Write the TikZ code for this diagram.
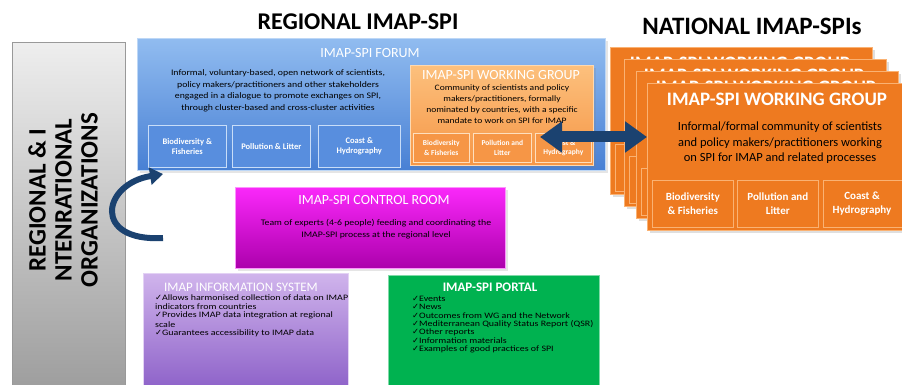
\documentclass[tikz,border=0pt]{standalone}
\usepackage{fontspec}
\setmainfont{Carlito}
\newfontfamily\widefont[FakeStretch=1.15]{Carlito}
\newfontfamily\listfont[FakeStretch=1.2]{Carlito}
\newfontfamily\symfont{DejaVu Sans}
\usetikzlibrary{arrows.meta,shadows}

\definecolor{greytop}{RGB}{238,238,238}
\definecolor{greybot}{RGB}{158,158,158}
\definecolor{forumtop}{RGB}{145,188,240}
\definecolor{forumbot}{RGB}{72,128,212}
\definecolor{forumsub}{RGB}{88,142,222}
\definecolor{wgtop}{RGB}{252,192,125}
\definecolor{wgbot}{RGB}{246,150,70}
\definecolor{natfill}{RGB}{238,122,32}
\definecolor{natedge}{RGB}{250,178,115}
\definecolor{arrowblue}{RGB}{27,66,112}
\definecolor{ctrltop}{RGB}{250,40,250}
\definecolor{ctrlbot}{RGB}{172,0,172}
\definecolor{infotop}{RGB}{208,180,236}
\definecolor{infobot}{RGB}{140,96,200}
\definecolor{portalfill}{RGB}{0,178,80}

\newcommand{\chk}{{\symfont ✓}}

\tikzset{
  panel/.style={anchor=north west, inner sep=0pt, line width=0.6pt},
  subpanel/.style={anchor=north west, inner sep=0pt, align=center, text=white,
    line width=0.6pt, font=\bfseries\fontsize{8.5}{10.5}\selectfont},
  natsub/.style={subpanel, fill=natfill, draw=natedge, minimum height=47pt},
  heading/.style={text=white, inner sep=0pt, font=\fontsize{14}{16}\selectfont},
  blurb/.style={align=center, inner sep=0pt, font=\widefont\fontsize{8.5}{11.5}\selectfont},
  checklist/.style={anchor=north west, align=left, inner sep=0pt,
    font=\listfont\fontsize{8.3}{8.3}\selectfont},
  bigarrow/.style={arrowblue, line width=11pt,
    {Triangle[width=30pt,length=22pt]}-{Triangle[width=30pt,length=22pt]}},
  bendarrow/.style={arrowblue, line width=6pt, -{Triangle[width=17pt,length=13pt]}},
}

% one national working group card: name, x, y of its top left corner
\newcommand{\natcard}[3]{%
  \node[panel, fill=natfill, draw=natedge, minimum width=262pt, minimum height=147pt,
    drop shadow={opacity=0.25}] (#1) at (#2,#3) {};
  \node[heading, font=\bfseries\fontsize{19}{22}\selectfont] (#1title) at (#2+130,#3+16)
    {IMAP-SPI WORKING GROUP};
  \node[natsub, minimum width=81pt] (#1bio) at (#2+5,#3+97) {};
  \node[natsub, minimum width=81pt] (#1pol) at (#2+90,#3+97) {};
  \node[natsub, minimum width=81pt] (#1coast) at (#2+176,#3+97) {};
}

\begin{document}
\begin{tikzpicture}[x=1pt,y=-1pt]
  \useasboundingbox[fill=white] (0,0) rectangle (902,385);

  % headings
  \node[inner sep=0pt, font=\bfseries\fontsize{24}{26}\selectfont] (regional) at (358,22) {REGIONAL IMAP-SPI};
  \node[inner sep=0pt, font=\bfseries\fontsize{25}{27}\selectfont] (national) at (752,26) {NATIONAL IMAP-SPIs};

  % organizations column
  \node[panel, top color=greytop, bottom color=greybot, draw=gray!80,
    minimum width=113pt, minimum height=345pt] (orgs) at (12,42) {};
  \node[rotate=90, align=center, inner sep=0pt, font=\bfseries\fontsize{25}{26}\selectfont]
    (orgstext) at (63,200) {REGIONAL \& I\\NTENRATIONAL\\ORGANIZATIONS};

  % forum
  \node[panel, top color=forumtop, bottom color=forumbot, draw=forumtop!60!white,
    minimum width=468pt, minimum height=132pt, drop shadow={opacity=0.2}] (forum) at (137,38) {};
  \node[heading] (forumtitle) at (370,53) {IMAP-SPI FORUM};
  \node[blurb] (forumtext) at (278,91)
    {Informal, voluntary-based, open network of scientists,\\policy makers/practitioners and other stakeholders\\engaged in a dialogue to promote exchanges on SPI,\\through cluster-based and cross-cluster activities};
  \node[subpanel, fill=forumsub, draw=forumtop!50!white, minimum width=78pt, minimum height=42pt]
    (forumbio) at (148,125) {Biodiversity \&\\Fisheries};
  \node[subpanel, fill=forumsub, draw=forumtop!50!white, minimum width=78pt, minimum height=42pt]
    (forumpol) at (232,125) {Pollution \& Litter};
  \node[subpanel, fill=forumsub, draw=forumtop!50!white, minimum width=82pt, minimum height=42pt]
    (forumcoast) at (318,125) {Coast \&\\Hydrography};

  % regional working group
  \node[panel, top color=wgtop, bottom color=wgbot, draw=wgtop!60!white,
    minimum width=183pt, minimum height=100pt, drop shadow={opacity=0.2}] (wg) at (410,65) {};
  \node[heading] (wgtitle) at (501,75) {IMAP-SPI WORKING GROUP};
  \node[blurb, font=\widefont\fontsize{8.3}{11}\selectfont] (wgtext) at (502,104.5)
    {Community of scientists and policy\\makers/practitioners, formally\\nominated by countries, with a specific\\mandate to work on SPI for IMAP};
  \node[subpanel, fill=wgbot, draw=wgtop!50!white, minimum width=56pt, minimum height=29pt,
    font=\bfseries\fontsize{7.5}{9.5}\selectfont] (wgbio) at (413,133) {Biodiversity\\\& Fisheries};
  \node[subpanel, fill=wgbot, draw=wgtop!50!white, minimum width=58pt, minimum height=29pt,
    font=\bfseries\fontsize{7.5}{9.5}\selectfont] (wgpol) at (473,133) {Pollution and\\Litter};
  \node[subpanel, fill=wgbot, draw=wgtop!50!white, minimum width=56pt, minimum height=29pt,
    font=\bfseries\fontsize{7.5}{9.5}\selectfont] (wgcoast) at (535,133) {Coast \&\\Hydrography};

  % national working groups, stacked, front one carries the text
  \foreach \i/\cx/\cy in {1/610/47,2/624/59,3/636/71,4/647/83}
    \natcard{card\i}{\cx}{\cy};
  \node[blurb, font=\fontsize{12.5}{15.5}\selectfont] (card4text) at (780,143)
    {Informal/formal community of scientists\\and policy makers/practitioners working\\on SPI for IMAP and related processes};
  \node[text=white, align=center, font=\bfseries\fontsize{11}{14}\selectfont] (card4biotext) at (card4bio) {Biodiversity\\\& Fisheries};
  \node[text=white, align=center, font=\bfseries\fontsize{11}{14}\selectfont] (card4poltext) at (card4pol) {Pollution and\\Litter};
  \node[text=white, align=center, font=\bfseries\fontsize{11}{14}\selectfont] (card4coasttext) at (862,203.5) {Coast \&\\Hydrography};

  % control room
  \node[panel, top color=ctrltop, bottom color=ctrlbot, draw=ctrltop!50!white,
    minimum width=270pt, minimum height=81pt, drop shadow={opacity=0.2}] (ctrl) at (235,187) {};
  \node[heading] (ctrltitle) at (374,200) {IMAP-SPI CONTROL ROOM};
  \node[blurb, font=\widefont\fontsize{8.5}{12.5}\selectfont] (ctrltext) at (376,229)
    {Team of experts (4-6 people) feeding and coordinating the\\IMAP-SPI process at the regional level};

  % information system
  \node[panel, top color=infotop, bottom color=infobot, draw=infotop!60!white,
    minimum width=205pt, minimum height=118pt] (info) at (143,273) {};
  \node[heading, font=\fontsize{13}{15}\selectfont] (infotitle) at (241,287) {IMAP  INFORMATION SYSTEM};
  \node[checklist] (infolist) at (155,295)
    {\chk Allows harmonised collection of data on IMAP\\indicators from countries\\\chk Provides IMAP data integration at regional\\[1.5pt]scale\\\chk Guarantees accessibility to IMAP data};

  % portal
  \node[panel, fill=portalfill, draw=portalfill!50!white,
    minimum width=211pt, minimum height=116pt] (portal) at (388,275) {};
  \node[heading, font=\bfseries\fontsize{13}{15}\selectfont] (portaltitle) at (490,287) {IMAP-SPI PORTAL};
  \node[checklist] (portallist) at (412,296)
    {\chk Events\\\chk News\\\chk Outcomes from WG and the Network\\\chk Mediterranean Quality Status Report (QSR)\\\chk Other reports\\\chk Information materials\\\chk Examples of good practices of SPI};

  % connectors
  \coordinate (wgport) at (540,137);
  \coordinate (natport) at (647,137);
  \draw[bigarrow] (wgport) -- (natport);

  \coordinate (orgtail) at (163,238);
  \coordinate (orgtip) at (163,174);
  \draw[bendarrow] (orgtail) .. controls (92,242) and (102,184) .. (orgtip);
\end{tikzpicture}
\end{document}
